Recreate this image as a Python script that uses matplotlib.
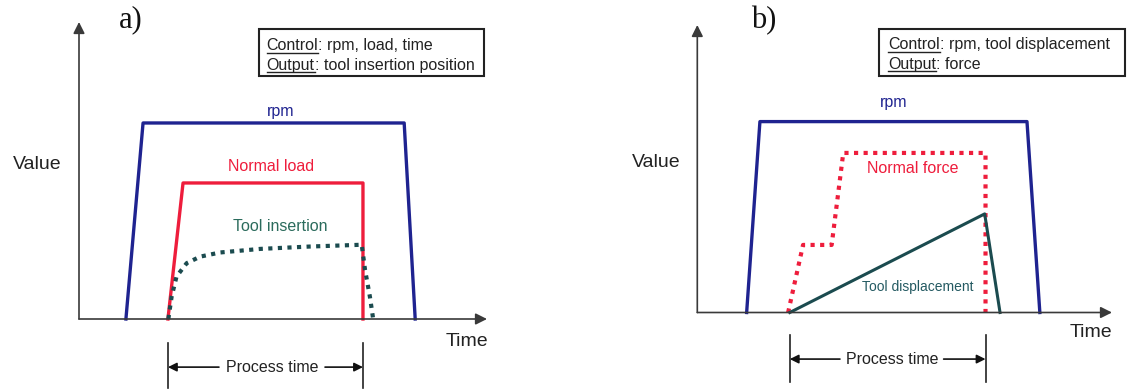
import matplotlib
matplotlib.use("Agg")
import matplotlib.pyplot as plt
from matplotlib.patches import Rectangle

plt.rcParams["font.family"] = ["Liberation Sans", "DejaVu Sans"]

# ---- panel a) : control rpm / load / time ----
rpm_a_t = [11.5, 15.7, 79.7, 82.4]
rpm_a_v = [0, 66.0, 66.0, 0]
load_a_t = [21.8, 25.5, 69.6, 69.6]
load_a_v = [0, 45.8, 45.8, 0]
insert_a_t = [21.9, 22.7, 23.9, 26.4, 29.7, 34.6, 44.4, 56.6, 69.3, 70.1, 71.3, 72.1]
insert_a_v = [0, 7.5, 14.3, 18.8, 21.0, 22.4, 23.6, 24.4, 25.0, 16.6, 7.5, 0]
process_a = [21.8, 69.6]

# ---- panel b) : control rpm / tool displacement ----
rpm_b_t = [11.9, 15.1, 79.5, 82.6]
rpm_b_v = [0, 66.4, 66.4, 0]
force_b_t = [21.9, 25.5, 32.4, 35.2, 69.5, 69.5]
force_b_v = [0, 23.5, 23.5, 55.5, 55.5, 0]
disp_b_t = [22.3, 69.3, 73.0]
disp_b_v = [0, 34.3, 0]
process_b = [22.3, 69.5]

box_a = [("Control", ": rpm, load, time"), ("Output", ": tool insertion position")]
box_b = [("Control", ": rpm, tool displacement"), ("Output", ": force")]

NAVY = "#1f2390"
RED = "#ee1d3c"
TEAL = "#1b4b4f"
AXIS = "#3a3a3a"

W, H = 1133, 391
fig = plt.figure(figsize=(W / 100, H / 100), dpi=100)
fig.patch.set_facecolor("white")
ax_a = fig.add_axes([79 / W, 72 / H, 408 / W, 297 / H])
ax_b = fig.add_axes([697.3 / W, 78.5 / H, 414.7 / W, 287.5 / H])


def setup(ax):
    ax.set_xlim(0, 100)
    ax.set_ylim(0, 100)
    ax.axis("off")
    arrow = dict(arrowstyle="-|>", lw=1.2, color=AXIS, mutation_scale=17, shrinkA=0, shrinkB=0)
    ax.annotate("", xy=(1, 0), xytext=(0, 0), xycoords="axes fraction", arrowprops=arrow)
    ax.annotate("", xy=(0, 1), xytext=(0, 0), xycoords="axes fraction", arrowprops=arrow)


def process_bracket(ax, t0, t1, y_top, y_bot, y_arr, xc, gap):
    for t in (t0, t1):
        ax.plot([t, t], [y_top, y_bot], color="#222222", lw=1.2, clip_on=False)
    arr = dict(arrowstyle="-|>", lw=1.2, color="#111111", mutation_scale=13, shrinkA=0, shrinkB=0)
    ax.annotate("", xy=(t0, y_arr), xytext=(xc - gap, y_arr), arrowprops=arr, annotation_clip=False)
    ax.annotate("", xy=(t1, y_arr), xytext=(xc + gap, y_arr), arrowprops=arr, annotation_clip=False)
    ax.text(xc, y_arr, "Process time", fontsize=11.5, ha="center", va="center",
            color="#222222", clip_on=False)


def info_box(ax, x0, x1, y0, y1, tx, ty, lines):
    ax.add_patch(Rectangle((x0, y0), x1 - x0, y1 - y0, fill=False, ec="#222222",
                           lw=1.5, clip_on=False))
    renderer = fig.canvas.get_renderer()
    for (word, rest), y in zip(lines, ty):
        t = ax.text(tx, y, word, fontsize=11.5, ha="left", va="baseline", color="#222222")
        bb = t.get_window_extent(renderer)
        inv = ax.transData.inverted()
        (xa, _), (xb, _) = inv.transform([(bb.x0, bb.y0), (bb.x1, bb.y0)])
        base = inv.transform([(0, ax.transData.transform((0, y))[1] - 2.5)])[0][1]
        ax.plot([xa, xb], [base, base], color="#222222", lw=1.0, clip_on=False)
        ax.text(xb, y, rest, fontsize=11.5, ha="left", va="baseline", color="#222222")


for ax in (ax_a, ax_b):
    setup(ax)

# panel a
ax_a.plot(rpm_a_t, rpm_a_v, color=NAVY, lw=2.4, clip_on=False)
ax_a.plot(load_a_t, load_a_v, color=RED, lw=2.4, clip_on=False)
ax_a.plot(insert_a_t, insert_a_v, color=TEAL, lw=3.0, ls=(0, (1, 1.3)), clip_on=False)
ax_a.text(49.3, 69.7, "rpm", fontsize=11.5, ha="center", va="center", color=NAVY)
ax_a.text(47.1, 51.5, "Normal load", fontsize=11.5, ha="center", va="center", color=RED)
ax_a.text(49.3, 31.3, "Tool insertion", fontsize=11.5, ha="center", va="center", color="#2b6b5c")
ax_a.text(-10.3, 51.9, "Value", fontsize=14, ha="center", va="center", color="#222222")
ax_a.text(95.1, -7.7, "Time", fontsize=14, ha="center", va="center", color="#222222")
ax_a.text(12.7, 100.7, "a)", fontsize=22, ha="center", va="center",
          family=["Liberation Serif", "DejaVu Serif"], color="#111111")
process_bracket(ax_a, process_a[0], process_a[1], -8.1, -23.2, -16.2, 47.3, 13.0)
info_box(ax_a, 44.1, 99.3, 81.8, 97.6, 46.0, [90.5, 84.0], box_a)

# panel b
ax_b.plot(rpm_b_t, rpm_b_v, color=NAVY, lw=2.4, clip_on=False)
ax_b.plot(force_b_t, force_b_v, color=RED, lw=3.0, ls=(0, (1, 1.3)), clip_on=False)
ax_b.plot(disp_b_t, disp_b_v, color=TEAL, lw=2.2, clip_on=False)
ax_b.text(47.4, 72.9, "rpm", fontsize=11.5, ha="center", va="center", color=NAVY)
ax_b.text(52.0, 50.0, "Normal force", fontsize=11.5, ha="center", va="center", color=RED)
ax_b.text(53.1, 9.0, "Tool displacement", fontsize=10, ha="center", va="center", color="#245a62")
ax_b.text(-10.0, 52.0, "Value", fontsize=14, ha="center", va="center", color="#222222")
ax_b.text(94.9, -7.1, "Time", fontsize=14, ha="center", va="center", color="#222222")
ax_b.text(15.9, 101.7, "b)", fontsize=22, ha="center", va="center",
          family=["Liberation Serif", "DejaVu Serif"], color="#111111")
process_bracket(ax_b, process_b[0], process_b[1], -7.8, -24.2, -16.2, 46.9, 12.5)
info_box(ax_b, 43.9, 103.1, 82.3, 98.6, 46.1, [91.5, 84.8], box_b)

fig.savefig("out.png", dpi=100, facecolor="white")
